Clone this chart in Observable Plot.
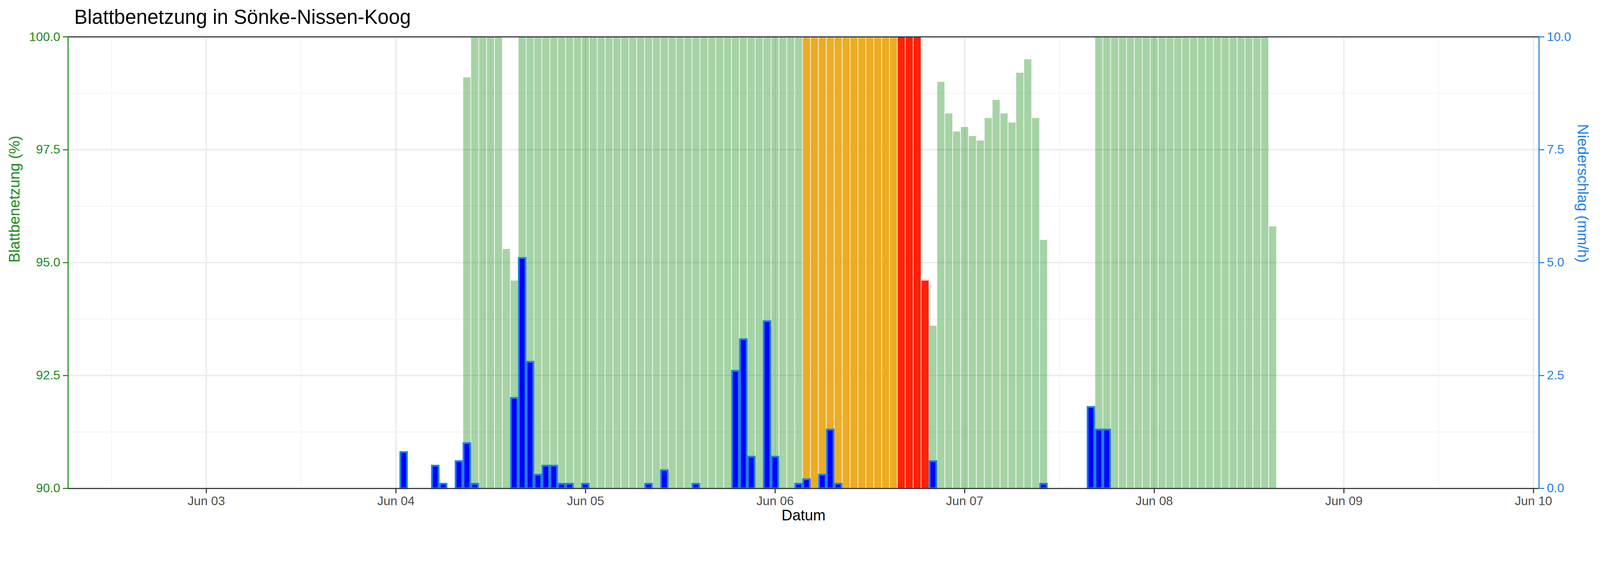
<!DOCTYPE html>
<html>
<head>
<meta charset="utf-8">
<script src="https://cdn.jsdelivr.net/npm/d3@7"></script>
<script src="https://cdn.jsdelivr.net/npm/@observablehq/plot@0.6"></script>
<style>
  body { margin: 0; background: #fff; }
  #title { height: 72px; font: 51px "Liberation Sans", Arial, sans-serif; color: #000;
           padding-left: 190px; line-height: 88px; box-sizing: border-box; }
  #chart svg { display: block; }
</style>
</head>
<body>
<div id="title">Blattbenetzung in Sönke-Nissen-Koog</div>
<div id="chart"></div>
<script>
// hourly leaf wetness, first value at Jun 04 09:00 (hour 33 after Jun 03 00:00)
const wetFirstHour = 33;
const wetValues = [
  99.1, 100, 100, 100, 100, 95.3, 94.6,
  100, 100, 100, 100, 100, 100, 100, 100, 100, 100, 100, 100,
  100, 100, 100, 100, 100, 100, 100, 100, 100, 100, 100, 100,
  100, 100, 100, 100, 100, 100, 100, 100, 100, 100, 100, 100,
  100, 100, 100, 100, 100, 100, 100, 100, 100, 100, 100, 100,
  100, 100, 100, 94.6,
  93.6, 99.0, 98.3, 97.9, 98.0, 97.8, 97.7, 98.2, 98.6, 98.3, 98.1, 99.2, 99.5, 98.2, 95.5,
  null, null, null, null, null, null,
  100, 100, 100, 100, 100, 100, 100, 100, 100, 100, 100,
  100, 100, 100, 100, 100, 100, 100, 100, 100, 100, 100, 95.8
];
// warning level per hour: g = normal, o = orange, r = red
const wetLevels = (
  "ggggggg" + "gggggggggggg" + "gggggggggggg" + "gggggggggggg" +
  "oooooooooooo" + "rrrr" +
  "ggggggggggggggg" + "gggggg" + "ggggggggggg" + "gggggggggggg"
).split("");

// precipitation (mm/h), hours after Jun 03 00:00
const rainHours  = [25, 29, 30, 32, 33, 34, 39, 40, 41, 42, 43, 44, 45, 46, 48, 56, 58, 62,
                    67, 68, 69, 71, 72, 75, 76, 78, 79, 80, 92, 106, 112, 113, 114];
const rainValues = [0.8, 0.5, 0.1, 0.6, 1.0, 0.1, 2.0, 5.1, 2.8, 0.3, 0.5, 0.5, 0.1, 0.1, 0.1, 0.1, 0.4, 0.1,
                    2.6, 3.3, 0.7, 3.7, 0.7, 0.1, 0.2, 0.3, 1.3, 0.1, 0.6, 0.1, 1.8, 1.3, 1.3];

const dayTicks = ["2023-06-03","2023-06-04","2023-06-05","2023-06-06","2023-06-07","2023-06-08","2023-06-09","2023-06-10"];
const leftTicks = [90, 92.5, 95, 97.5, 100];
const rightTicks = [0, 2.5, 5, 7.5, 10];

const base = Date.UTC(2023, 5, 3);
const H = 3600e3;
const at = h => new Date(base + h * H);

const wet = wetValues.map((v, i) => ({h: wetFirstHour + i, v, level: wetLevels[i]}))
  .filter(d => d.v != null)
  .map(d => ({x1: at(d.h - 0.46), x2: at(d.h + 0.46), v: d.v, level: d.level}));
const rain = rainHours.map((h, i) => ({x1: at(h - 0.42), x2: at(h + 0.42), v: 90 + rainValues[i]}));

const days = dayTicks.map(d => new Date(d + "T00:00Z"));
const noons = [-12, 12, 36, 60, 84, 108, 132, 156].map(at);
const minorY = [91.25, 93.75, 96.25, 98.75];
const xDomain = [at(-17.5), at(168.7)];

const green = "#1a8a1a", blue = "#1e7fe6";
const fills = {g: "green", o: "#eba918", r: "#fe2208"};
const opac = {g: 0.35, o: 0.95, r: 1};

const chart = Plot.plot({
  width: 4500,
  height: 1428,
  marginTop: 24,
  marginBottom: 134,
  marginLeft: 191,
  marginRight: 172,
  style: {fontFamily: "Liberation Sans, Arial, sans-serif", fontSize: "35px", background: "#fff"},
  x: {type: "utc", domain: xDomain},
  y: {domain: [90, 100]},
  marks: [
    Plot.ruleY(minorY, {stroke: "#f2f2f2", strokeWidth: 2}),
    Plot.ruleY(leftTicks, {stroke: "#ebebeb", strokeWidth: 4}),
    Plot.ruleX(noons.filter(d => d > xDomain[0]), {stroke: "#f2f2f2", strokeWidth: 2}),
    Plot.ruleX(days, {stroke: "#ebebeb", strokeWidth: 4}),
    ...["g", "o", "r"].map(l => Plot.rect(wet.filter(d => d.level === l), {
      x1: "x1", x2: "x2", y1: 90, y2: "v", fill: fills[l], fillOpacity: opac[l]
    })),
    Plot.rect(rain, {x1: "x1", x2: "x2", y1: 90, y2: "v", fill: "#0000ff", stroke: blue, strokeWidth: 5}),
    Plot.ruleY([90, 100], {stroke: "#333", strokeWidth: 3}),
    Plot.ruleX([xDomain[0]], {stroke: green, strokeWidth: 3}),
    Plot.ruleX([xDomain[1]], {stroke: blue, strokeWidth: 3}),
    Plot.axisX({ticks: days, tickFormat: d3.utcFormat("%b %d"), tickSize: 14, tickPadding: 8,
                stroke: "#333", fill: "#4d4d4d", strokeWidth: 3, label: null}),
    Plot.axisY({anchor: "left", ticks: leftTicks, tickFormat: d => d.toFixed(1), tickSize: 14,
                tickPadding: 8, color: green, strokeWidth: 3, label: null}),
    Plot.axisY({anchor: "right", ticks: leftTicks, tickFormat: (d, i) => rightTicks[i].toFixed(1),
                tickSize: 14, tickPadding: 8, color: blue, strokeWidth: 3, label: null}),
    Plot.text(["Blattbenetzung (%)"], {frameAnchor: "left", dx: -150, rotate: -90, fill: green, fontSize: 42}),
    Plot.text(["Niederschlag (mm/h)"], {frameAnchor: "right", dx: 122, rotate: 90, fill: blue, fontSize: 42}),
    Plot.text(["Datum"], {frameAnchor: "bottom", dy: 90, fill: "#000", fontSize: 42})
  ]
});
document.getElementById("chart").append(chart);
</script>
</body>
</html>
